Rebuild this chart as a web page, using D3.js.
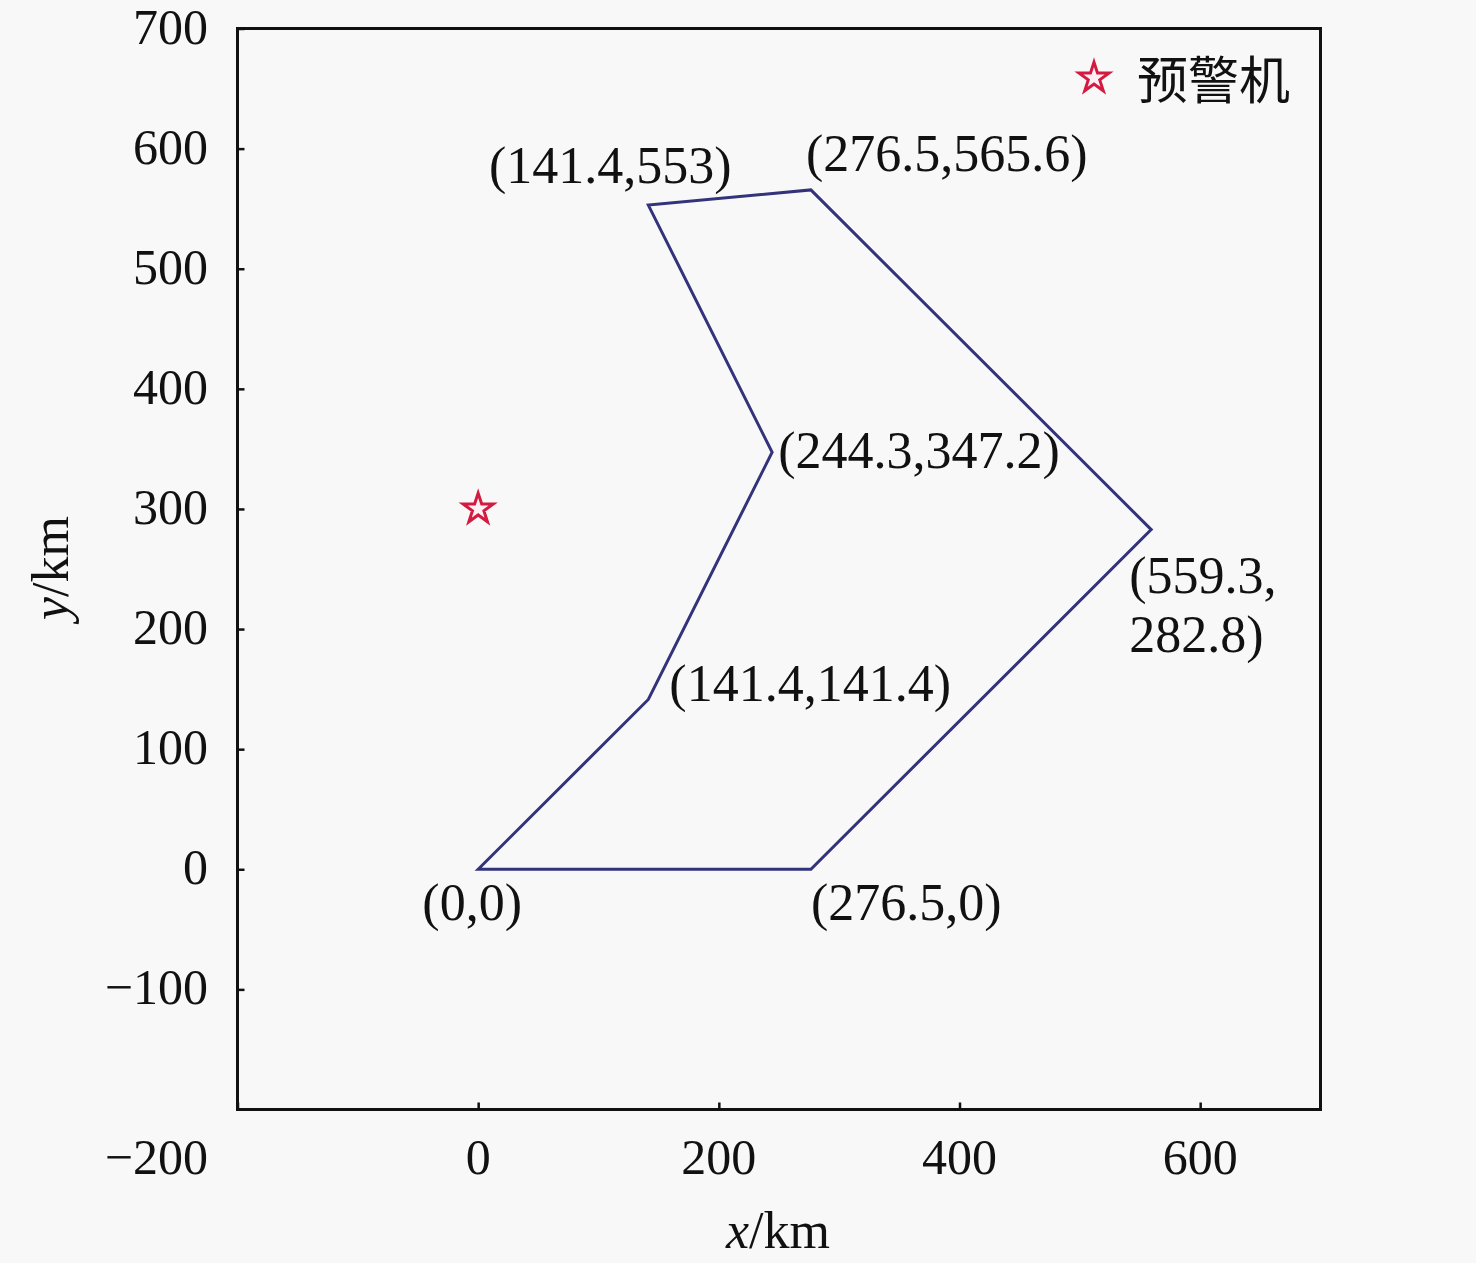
<!DOCTYPE html>
<html><head><meta charset="utf-8">
<script src="https://cdn.jsdelivr.net/npm/d3@7"></script>
<style>html,body{margin:0;padding:0;background:#f8f8f8;}</style>
</head><body>
<svg id="c" width="1476" height="1263"></svg>
<script>
const xTicks = [-200, 0, 200, 400, 600];
const yTicks = [-100, 0, 100, 200, 300, 400, 500, 600, 700];
const polyX = [0, 141.4, 244.3, 141.4, 276.5, 559.3, 276.5];
const polyY = [0, 141.4, 347.2, 553, 565.6, 282.8, 0];
const labels = ["(0,0)", "(141.4,141.4)", "(244.3,347.2)", "(141.4,553)", "(276.5,565.6)", "(559.3,\n282.8)", "(276.5,0)"];
const radarX = [0];
const radarY = [300];
const legendText = "预警机";

const svg = d3.select("#c");
const m = {l: 237.5, r: 1320.5, t: 28.5, b: 1109.5};
const x = d3.scaleLinear().domain([-200, 700]).range([m.l, m.r]);
const y = d3.scaleLinear().domain([-200, 700]).range([m.b, m.t]);
const serif = "'Liberation Serif','Times New Roman',serif";
const fs = 50, lfs = 52;

// frame
svg.append("rect").attr("x", m.l).attr("y", m.t).attr("width", m.r - m.l).attr("height", m.b - m.t)
  .attr("fill", "none").attr("stroke", "#111").attr("stroke-width", 3);

// ticks
const xa = svg.append("g").attr("transform", `translate(0,${m.b})`)
  .call(d3.axisBottom(x).tickValues(xTicks).tickSizeInner(-7).tickSizeOuter(0).tickFormat(""));
xa.select(".domain").remove();
xa.selectAll("line").attr("stroke", "#111").attr("stroke-width", 2.5);
const ya = svg.append("g").attr("transform", `translate(${m.l},0)`)
  .call(d3.axisLeft(y).tickValues(yTicks).tickSizeInner(-7).tickSizeOuter(0).tickFormat(""));
ya.select(".domain").remove();
ya.selectAll("line").attr("stroke", "#111").attr("stroke-width", 2.5);

const fmt = v => v < 0 ? "\u2212" + Math.abs(v) : String(v);
svg.append("g").selectAll("text").data(xTicks).join("text")
  .attr("x", d => d === -200 ? 208 : x(d))
  .attr("y", 1157)
  .attr("text-anchor", d => d === -200 ? "end" : "middle")
  .attr("dominant-baseline", "central")
  .attr("font-family", serif).attr("font-size", fs).attr("fill", "#111")
  .text(fmt);
svg.append("g").selectAll("text").data(yTicks).join("text")
  .attr("x", 208).attr("y", d => y(d) - 2)
  .attr("text-anchor", "end").attr("dominant-baseline", "central")
  .attr("font-family", serif).attr("font-size", fs).attr("fill", "#111")
  .text(fmt);

// axis titles
const xt = svg.append("text").attr("x", 778).attr("y", 1230).attr("text-anchor", "middle")
  .attr("dominant-baseline", "central").attr("font-family", serif).attr("font-size", lfs).attr("fill", "#111");
xt.append("tspan").attr("font-style", "italic").text("x");
xt.append("tspan").text("/km");
const yt = svg.append("text").attr("transform", "translate(50,568) rotate(-90)").attr("text-anchor", "middle")
  .attr("dominant-baseline", "central").attr("font-family", serif).attr("font-size", lfs).attr("fill", "#111");
yt.append("tspan").attr("font-style", "italic").text("y");
yt.append("tspan").text("/km");

// polygon
const pts = polyX.map((v, i) => [v, polyY[i]]);
const line = d3.line().x(d => x(d[0])).y(d => y(d[1]));
svg.append("path").attr("d", line(pts) + "Z").attr("fill", "none")
  .attr("stroke", "#33337c").attr("stroke-width", 3).attr("stroke-linejoin", "miter");

// labels
const off = [
  {dx: -6, dy: 33, a: "middle"},
  {dx: 21, dy: -16, a: "start"},
  {dx: 6, dy: -2, a: "start"},
  {dx: -38, dy: -40, a: "middle"},
  {dx: -5, dy: -36, a: "start"},
  {dx: -22, dy: 46, a: "start"},
  {dx: 0, dy: 33, a: "start"}
];
pts.forEach((p, i) => {
  const lines = labels[i].split("\n");
  lines.forEach((t, j) => {
    svg.append("text").attr("x", x(p[0]) + off[i].dx).attr("y", y(p[1]) + off[i].dy + j * 59)
      .attr("text-anchor", off[i].a).attr("dominant-baseline", "central")
      .attr("font-family", serif).attr("font-size", lfs).attr("fill", "#111").text(t);
  });
});

// star
const star = d3.symbol().type(d3.symbolStar).size(280);
function drawStar(cx, cy) {
  svg.append("path").attr("d", star()).attr("transform", `translate(${cx},${cy})`)
    .attr("fill", "#fff0f4").attr("stroke", "#d41a40").attr("stroke-width", 3);
}
radarX.forEach((v, i) => drawStar(x(v), y(radarY[i])));
drawStar(1094, 78);
svg.append("text").attr("x", 1137).attr("y", 77).attr("dominant-baseline", "central")
  .attr("font-family", "'Noto Sans CJK SC'").attr("font-size", 51).attr("fill", "#111").text(legendText);
</script>
</body></html>
